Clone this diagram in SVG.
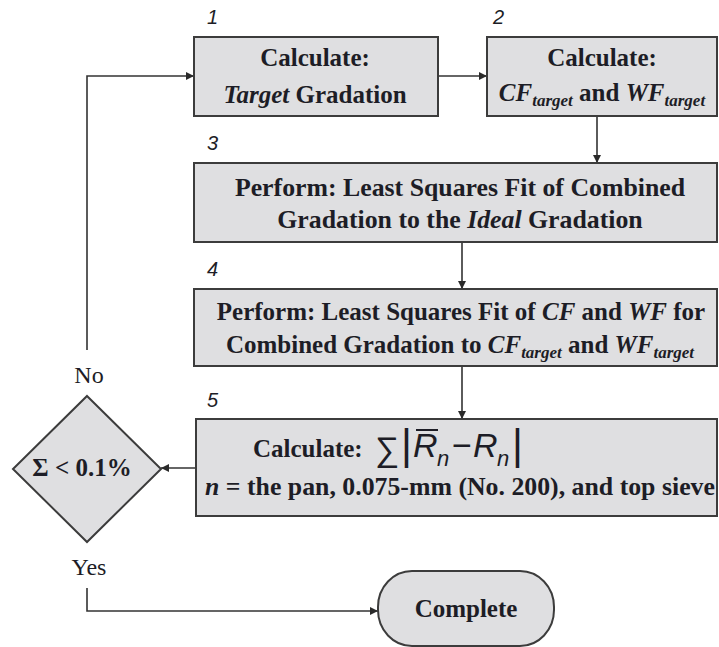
<svg xmlns="http://www.w3.org/2000/svg" width="719" height="647" viewBox="0 0 719 647">
  <defs>
    <marker id="arrow" viewBox="0 0 10 10" refX="10" refY="5" markerWidth="9" markerHeight="8" markerUnits="userSpaceOnUse" orient="auto">
      <path d="M0,0 L10,5 L0,10 z" fill="#2a2a2a"/>
    </marker>
    <style>
      .box { fill: #dfdfe1; stroke: #3c3c3c; stroke-width: 2; }
      .t { font-family: "Liberation Serif", "Times New Roman", serif; font-size: 25px; font-weight: bold; fill: #1d1d26; text-anchor: middle; }
      .i { font-style: italic; }
      .sub { font-size: 17px; font-style: italic; }
      .lbl { font-family: "Liberation Serif", "Times New Roman", serif; font-size: 24px; fill: #1d1d26; text-anchor: middle; }
      .num { font-family: "Liberation Sans", Arial, sans-serif; font-size: 20px; font-style: italic; fill: #1d1d26; }
      .m { font-family: "Liberation Sans", Arial, sans-serif; fill: #1d1d26; }
      .conn { fill: none; stroke: #333; stroke-width: 1.6; }
    </style>
  </defs>

  <!-- connectors -->
  <g id="connectors">
    <path class="conn" d="M87,350 V76 H194" marker-end="url(#arrow)"/>
    <path class="conn" d="M438,76 H487" marker-end="url(#arrow)"/>
    <path class="conn" d="M597,116 V163" marker-end="url(#arrow)"/>
    <path class="conn" d="M462,242 V289" marker-end="url(#arrow)"/>
    <path class="conn" d="M462,366 V419" marker-end="url(#arrow)"/>
    <path class="conn" d="M196,468 H161" marker-end="url(#arrow)"/>
    <path class="conn" d="M87,588 V611 H378" marker-end="url(#arrow)"/>
  </g>

  <!-- step 1 -->
  <g id="step1">
    <text class="num" x="207" y="24">1</text>
    <rect class="box" x="194" y="37" width="244" height="79"/>
    <text class="t" x="315" y="66">Calculate:</text>
    <text class="t" x="315" y="103"><tspan class="i">Target</tspan> Gradation</text>
  </g>

  <!-- step 2 -->
  <g id="step2">
    <text class="num" x="493" y="24">2</text>
    <rect class="box" x="487" y="37" width="230" height="79"/>
    <text class="t" x="602" y="66">Calculate:</text>
    <text class="t" x="602" y="101"><tspan class="i">CF</tspan><tspan class="sub" dy="5">target</tspan><tspan dy="-5"> and </tspan><tspan class="i">WF</tspan><tspan class="sub" dy="5">target</tspan></text>
  </g>

  <!-- step 3 -->
  <g id="step3">
    <text class="num" x="207" y="150">3</text>
    <rect class="box" x="194" y="163" width="523" height="79"/>
    <text class="t" x="460" y="196" style="font-size:25.8px">Perform:  Least Squares Fit of Combined</text>
    <text class="t" x="460" y="228" style="font-size:25.8px">Gradation to the <tspan class="i">Ideal</tspan> Gradation</text>
  </g>

  <!-- step 4 -->
  <g id="step4">
    <text class="num" x="207" y="276">4</text>
    <rect class="box" x="194" y="289" width="523" height="77"/>
    <text class="t" x="461" y="320">Perform:  Least Squares Fit of <tspan class="i">CF</tspan> and <tspan class="i">WF</tspan> for</text>
    <text class="t" x="460" y="353">Combined Gradation to <tspan class="i">CF</tspan><tspan class="sub" dy="5">target</tspan><tspan dy="-5"> and </tspan><tspan class="i">WF</tspan><tspan class="sub" dy="5">target</tspan></text>
  </g>

  <!-- step 5 -->
  <g id="step5">
    <text class="num" x="207" y="407">5</text>
    <rect class="box" x="196" y="419" width="521" height="97"/>
    <text class="t" x="253" y="457" style="text-anchor:start">Calculate:</text>
    <text class="m" x="375" y="461" font-size="34">∑</text>
    <text class="m" x="401" y="459" font-size="42">|</text>
    <text class="m" x="413" y="457" font-size="34" font-style="italic">R</text>
    <line x1="416" y1="430" x2="438" y2="430" stroke="#1d1d26" stroke-width="2"/>
    <text class="m" x="437" y="466" font-size="22" font-style="italic">n</text>
    <text class="m" x="452" y="457" font-size="34">−</text>
    <text class="m" x="473" y="457" font-size="34" font-style="italic">R</text>
    <text class="m" x="497" y="466" font-size="22" font-style="italic">n</text>
    <text class="m" x="512" y="459" font-size="42">|</text>
    <text class="t" x="460" y="495" style="font-size:25.8px"><tspan class="i">n</tspan> = the pan, 0.075-mm (No. 200), and top sieve</text>
  </g>

  <!-- decision -->
  <g id="decision">
    <text class="lbl" x="89" y="383">No</text>
    <polygon class="box" points="87,396 161,469 87,542 13,469"/>
    <text class="t" x="82" y="476">Σ &lt; 0.1%</text>
    <text class="lbl" x="89" y="575">Yes</text>
  </g>

  <!-- end -->
  <g id="complete">
    <rect class="box" x="378" y="571" width="176" height="75" rx="34" ry="36"/>
    <text class="t" x="466" y="617">Complete</text>
  </g>
</svg>
